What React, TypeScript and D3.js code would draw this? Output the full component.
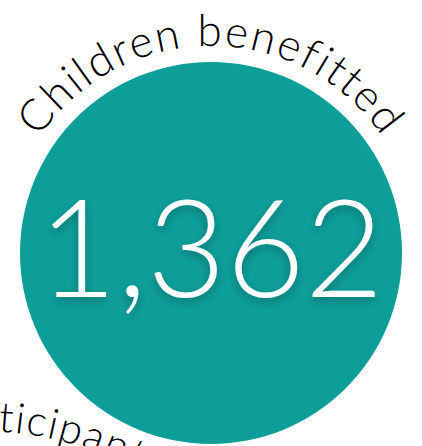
import React from "react";
import * as d3 from "d3";

// ---- data ----
const bubbleLabels = ["Children benefitted", "Participants"];
const bubbleValues = [1362];

const W = 422;
const H = 446;

export default function App() {
  const fmt = d3.format(",");
  const cx = 211, cy = 253, r = 191;
  const labelR = 207;

  const topPath = d3.path();
  topPath.moveTo(cx - labelR, cy);
  topPath.arc(cx, cy, labelR, Math.PI, 2 * Math.PI, false);

  // second bubble (mostly outside the frame)
  const cx2 = -20, cy2 = 761, r2 = 313, labelR2 = 330;
  const t0 = -Math.PI / 2 - 0.137;
  const t1 = -Math.PI / 2 + 1.3;
  const p2 = d3.path();
  p2.moveTo(cx2 + labelR2 * Math.cos(t0), cy2 + labelR2 * Math.sin(t0));
  p2.arc(cx2, cy2, labelR2, t0, t1, false);

  return (
    <svg width={W} height={H} style={{ position: "absolute", left: 0, top: 0, background: "#fff" }}>
      <defs>
        <filter id="numShadow" x="-20%" y="-20%" width="140%" height="150%">
          <feDropShadow dx="0" dy="4" stdDeviation="5" floodColor="#000" floodOpacity="0.28" />
        </filter>
        <path id="labelArc1" d={topPath.toString()} />
        <path id="labelArc2" d={p2.toString()} />
      </defs>
      <circle cx={cx2} cy={cy2} r={r2} fill="#0e9e9a" />
      <circle cx={cx} cy={cy} r={r} fill="#0e9e9a" />
      <text
        x={cx}
        y={cy + 44}
        textAnchor="middle"
        fill="#fff"
        fontFamily="Lato, sans-serif"
        fontWeight={300}
        fontSize={136}
        filter="url(#numShadow)"
      >
        {fmt(bubbleValues[0])}
      </text>
      <text fontFamily="Lato, sans-serif" fontWeight={300} fontSize={44} letterSpacing={2} fill="#000">
        <textPath href="#labelArc1" startOffset="50%" textAnchor="middle">
          {bubbleLabels[0]}
        </textPath>
      </text>
      <text fontFamily="Lato, sans-serif" fontWeight={300} fontSize={42} letterSpacing={1.5} fill="#000">
        <textPath href="#labelArc2" startOffset="0">
          {bubbleLabels[1]}
        </textPath>
      </text>
    </svg>
  );
}
